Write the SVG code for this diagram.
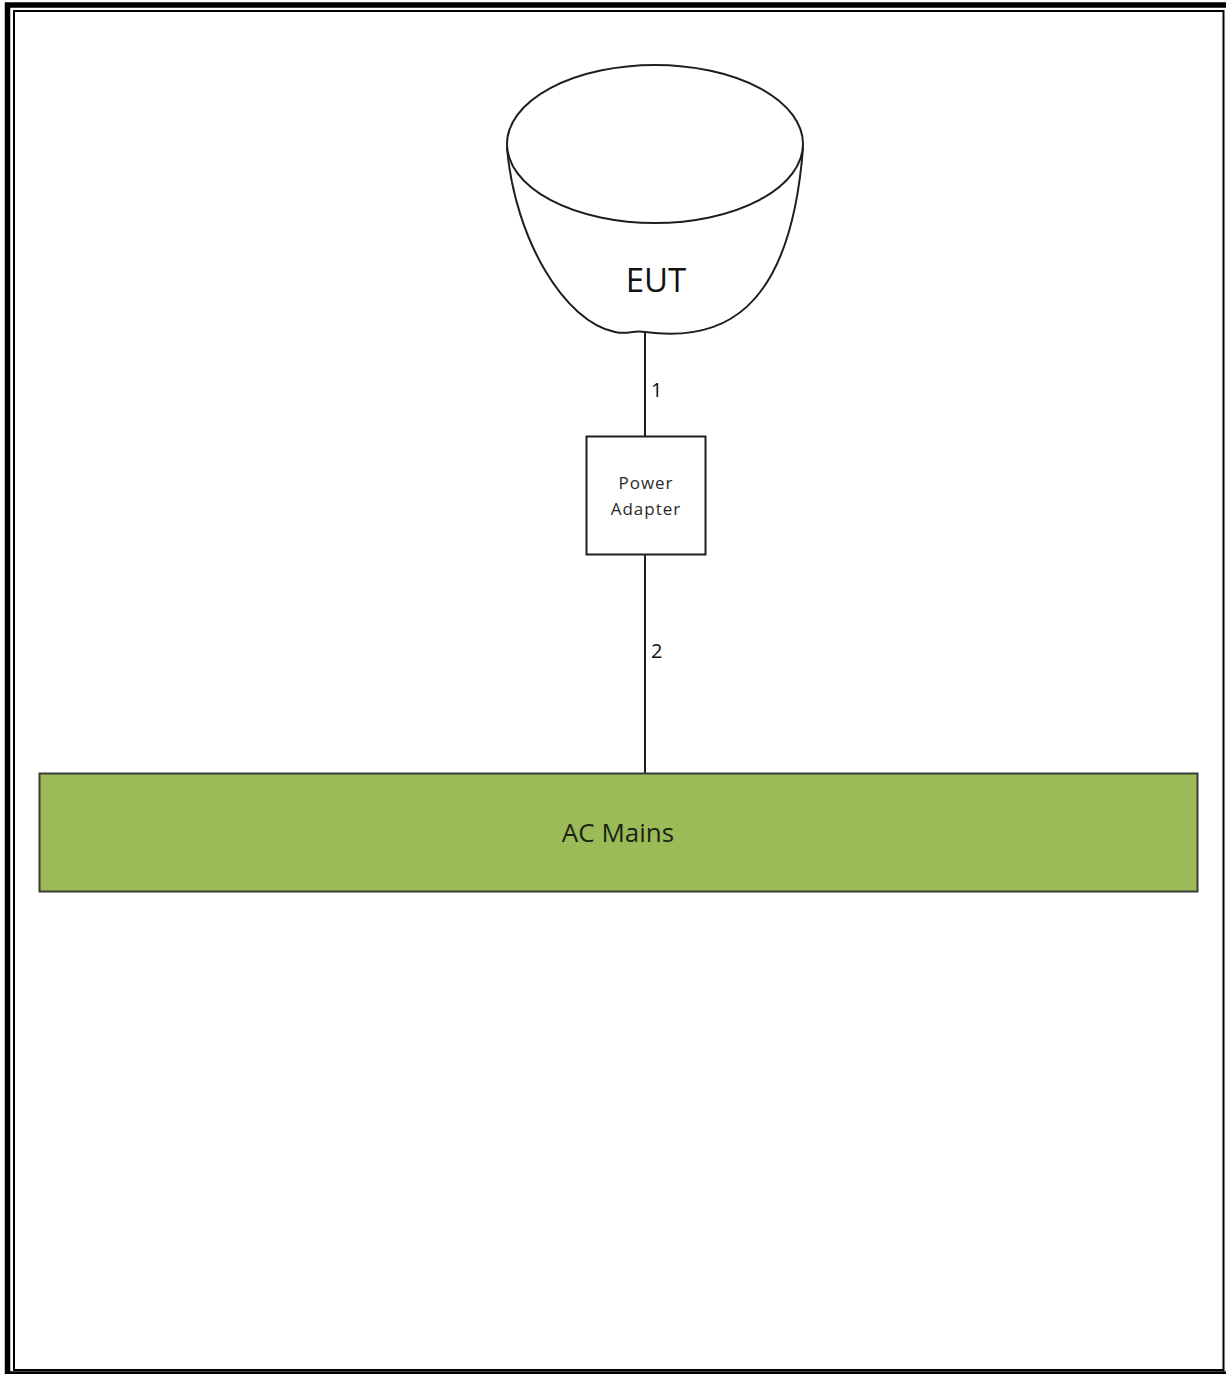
<svg xmlns="http://www.w3.org/2000/svg" width="1226" height="1374" viewBox="0 0 1226 1374">
  <style>
    .frame-outer { fill: none; stroke: #000; stroke-width: 5.5; }
    .frame-inner { fill: none; stroke: #000; stroke-width: 2; }
    .shape { fill: #fff; stroke: #1e1e1e; stroke-width: 2; }
    .wire { stroke: #1e1e1e; stroke-width: 2; fill: none; }
    .lbl { font-family: "Open Sans", "Liberation Sans", sans-serif; fill: #111; }
    .mains { fill: #9BBB59; stroke: #3a3d36; stroke-width: 2; }
  </style>

  <rect width="1226" height="1374" fill="#fff"/>

  <!-- page frame: heavy outer rule with a thin inner rule -->
  <rect class="frame-outer" x="7.5" y="5" width="1230" height="1369"/>
  <rect class="frame-inner" x="14" y="11" width="1209.5" height="1359"/>

  <!-- connectors -->
  <g id="connectors">
    <line class="wire" x1="645" y1="333" x2="645" y2="436"/>
    <line class="wire" x1="645" y1="554" x2="645" y2="773"/>
    <text class="lbl" x="651" y="397" font-size="20">1</text>
    <text class="lbl" x="651" y="658" font-size="20">2</text>
  </g>

  <!-- EUT: bowl-shaped device -->
  <g id="eut">
    <path class="shape" d="M507,148 C515,240 565,322 615,332 C628,335 632,330 645,332 C720,342 790,315 803,148 Z"/>
    <ellipse class="shape" cx="655" cy="144" rx="148" ry="79"/>
    <text class="lbl" x="656" y="292" font-size="33" text-anchor="middle" fill="#000">EUT</text>
  </g>

  <!-- power adapter -->
  <g id="power-adapter">
    <rect class="shape" x="586.5" y="436.5" width="119" height="118" stroke-width="1.6"/>
    <text class="lbl" x="646" y="489" font-size="17" text-anchor="middle" letter-spacing="1" style="fill:#2a2a2a">Power</text>
    <text class="lbl" x="646" y="515" font-size="17" text-anchor="middle" letter-spacing="1" style="fill:#2a2a2a">Adapter</text>
  </g>

  <!-- AC mains supply -->
  <g id="ac-mains">
    <rect class="mains" x="39.5" y="773.5" width="1158" height="118"/>
    <text class="lbl" x="618" y="842" font-size="26" text-anchor="middle" style="fill:#1c2414">AC Mains</text>
  </g>
</svg>
